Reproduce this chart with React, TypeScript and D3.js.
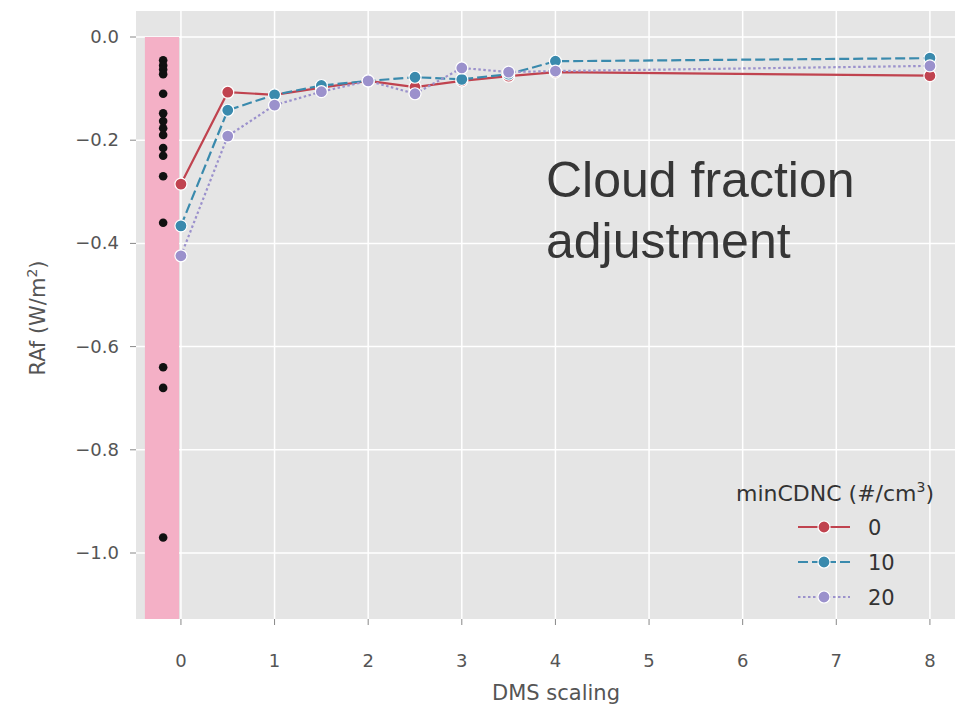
import React from "react";
import * as d3 from "d3";

const dmsScaling = [0, 0.5, 1, 1.5, 2, 2.5, 3, 3.5, 4, 8];
const raf0 = [-0.285, -0.107, -0.112, -0.098, -0.085, -0.097, -0.085, -0.076, -0.068, -0.075];
const raf10 = [-0.366, -0.142, -0.112, -0.094, -0.085, -0.078, -0.082, -0.072, -0.047, -0.041];
const raf20 = [-0.424, -0.192, -0.132, -0.106, -0.085, -0.11, -0.06, -0.068, -0.066, -0.056];
const seriesLabels = ["0", "10", "20"];
const obsValues = [-0.045, -0.055, -0.063, -0.072, -0.11, -0.148, -0.163, -0.177, -0.19, -0.215, -0.23, -0.27, -0.36, -0.64, -0.68, -0.97];
const obsX = -0.19;
const xTicks = [0, 1, 2, 3, 4, 5, 6, 7, 8];
const yTicks = [0, -0.2, -0.4, -0.6, -0.8, -1.0];

const W = 955;
const H = 707;
const left = 136, right = 958, top = 11, bottom = 619;

const x = d3.scaleLinear().domain([-0.48, 8.3]).range([left, right]);
const y = d3.scaleLinear().domain([0, -1.0]).range([37, 553]);

const colors = ["#c0434f", "#3a8aad", "#9b91cc"];
const dashes = ["none", "10,4", "2.5,2.5"];

export default function App() {
  const seriesVals = [raf0, raf10, raf20];
  const line = d3
    .line<number>()
    .x((_, i) => x(dmsScaling[i]))
    .y((d) => y(d));
  const fmt = (v: number) => (v < 0 ? "\u2212" : "") + Math.abs(v).toFixed(1);
  const tickFont = "DejaVu Sans, sans-serif";
  return (
    <svg width={W} height={H} style={{ position: "absolute", left: 0, top: 0, background: "#fff" }}>
      <rect x={left} y={top} width={right - left} height={bottom - top} fill="#e5e5e5" />
      {/* grid */}
      {xTicks.map((t) => (
        <line key={"gx" + t} x1={x(t)} x2={x(t)} y1={top} y2={bottom} stroke="#fff" strokeWidth={1.5} />
      ))}
      {yTicks.map((t) => (
        <line key={"gy" + t} x1={left} x2={right} y1={y(t)} y2={y(t)} stroke="#fff" strokeWidth={1.5} />
      ))}
      {/* pink strip */}
      <rect x={x(-0.385)} y={y(0)} width={x(-0.02) - x(-0.385)} height={bottom - y(0)} fill="#f4b0c6" />
      {obsValues.map((v, i) => (
        <circle key={"o" + i} cx={x(obsX)} cy={y(v)} r={4.3} fill="#111" />
      ))}
      {/* series */}
      {seriesVals.map((vals, si) => (
        <g key={"s" + si}>
          <path d={line(vals) || ""} fill="none" stroke={colors[si]} strokeWidth={2.2} strokeDasharray={dashes[si]} />
          {vals.map((v, i) => (
            <circle key={i} cx={x(dmsScaling[i])} cy={y(v)} r={6} fill={colors[si]} stroke="#fff" strokeWidth={1.2} />
          ))}
        </g>
      ))}
      {/* annotation */}
      <text x={546} y={197} fontFamily="Liberation Sans, Arial, sans-serif" fontSize={50} fill="#363636">
        Cloud fraction
      </text>
      <text x={546} y={258} fontFamily="Liberation Sans, Arial, sans-serif" fontSize={50} fill="#363636">
        adjustment
      </text>
      {/* axes ticks */}
      {xTicks.map((t) => (
        <g key={"xt" + t}>
          <line x1={x(t)} x2={x(t)} y1={bottom} y2={bottom + 6} stroke="#888" strokeWidth={1} />
          <text x={x(t)} y={667} textAnchor="middle" fontFamily={tickFont} fontSize={18} fill="#555">
            {t}
          </text>
        </g>
      ))}
      {yTicks.map((t) => (
        <g key={"yt" + t}>
          <line x1={left - 6} x2={left} y1={y(t)} y2={y(t)} stroke="#888" strokeWidth={1} />
          <text x={119} y={y(t) + 6} textAnchor="end" fontFamily={tickFont} fontSize={18} fill="#555">
            {fmt(t)}
          </text>
        </g>
      ))}
      <text x={556} y={700} textAnchor="middle" fontFamily={tickFont} fontSize={21} fill="#555">
        DMS scaling
      </text>
      <text
        transform="translate(45,318) rotate(-90)"
        textAnchor="middle"
        fontFamily={tickFont}
        fontSize={21}
        fill="#555"
      >
        RAf (W/m<tspan dy={-8} fontSize={14}>2</tspan>
        <tspan dy={8}>)</tspan>
      </text>
      {/* legend */}
      <text x={736} y={501} fontFamily={tickFont} fontSize={22} fill="#333">
        minCDNC (#/cm<tspan dy={-9} fontSize={14}>3</tspan>
        <tspan dy={9}>)</tspan>
      </text>
      {seriesLabels.map((lab, si) => {
        const ly = 527 + si * 35;
        return (
          <g key={"lg" + si}>
            <line x1={798} x2={850} y1={ly} y2={ly} stroke={colors[si]} strokeWidth={2.2} strokeDasharray={dashes[si]} />
            <circle cx={824} cy={ly} r={6} fill={colors[si]} stroke="#fff" strokeWidth={1.2} />
            <text x={868} y={ly + 8} fontFamily={tickFont} fontSize={21} fill="#333">
              {lab}
            </text>
          </g>
        );
      })}
    </svg>
  );
}
